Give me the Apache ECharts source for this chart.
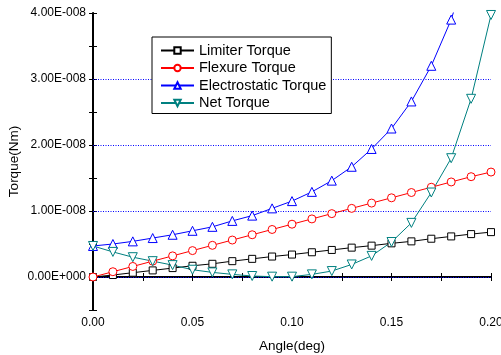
<!DOCTYPE html>
<html>
<head>
<meta charset="utf-8">
<script src="https://cdn.jsdelivr.net/npm/echarts@6/dist/echarts.min.js"></script>
<style>
  html, body { margin: 0; padding: 0; background: #fff; }
  #chart { width: 501px; height: 355px; }
</style>
</head>
<body>
<div id="chart"></div>
<script>
// angle in degrees, torque values in units of 1e-8 Nm
const angles = [0, 0.01, 0.02, 0.03, 0.04, 0.05, 0.06, 0.07, 0.08, 0.09, 0.10,
  0.11, 0.12, 0.13, 0.14, 0.15, 0.16, 0.17, 0.18, 0.19, 0.20]
const limiter = [0, 0.03, 0.065, 0.10, 0.135, 0.17, 0.20, 0.24, 0.275, 0.31, 0.34,
  0.375, 0.41, 0.445, 0.475, 0.51, 0.54, 0.58, 0.615, 0.65, 0.68]
const flexure = [0, 0.08, 0.16, 0.24, 0.32, 0.40, 0.48, 0.56, 0.64, 0.72, 0.80,
  0.88, 0.96, 1.04, 1.12, 1.20, 1.28, 1.36, 1.44, 1.52, 1.59]
const electrostatic = [0.47, 0.50, 0.54, 0.59, 0.64, 0.70, 0.76, 0.85, 0.93, 1.04, 1.15,
  1.29, 1.46, 1.67, 1.94, 2.25, 2.66, 3.20, 3.90, 4.87, 6.24]
const net = [0.47, 0.38, 0.30, 0.24, 0.18, 0.11, 0.07, 0.04, 0.015, 0.005, 0.005,
  0.04, 0.09, 0.19, 0.32, 0.53, 0.82, 1.28, 1.80, 2.70, 3.97]
const seriesNames = ['Limiter Torque', 'Flexure Torque', 'Electrostatic Torque', 'Net Torque']
const gridValues = [0, 1, 2, 3]

const SCALE = 1e-8
const pairs = (arr) => angles.map((a, i) => [a, arr[i] * SCALE])

const chart = echarts.init(document.getElementById('chart'))

const font = 'Liberation Sans, Arial, sans-serif'

const mkSeries = (name, arr, color, symbol, size, rotate) => ({
  name,
  type: 'line',
  data: pairs(arr),
  color,
  symbol,
  symbolSize: size,
  symbolRotate: rotate || 0,
  showAllSymbol: true,
  clip: true,
  lineStyle: { color, width: 1 },
  itemStyle: { color: '#fff', borderColor: color, borderWidth: 1 },
  animation: false,
  z: 3,
})

const series = [
  mkSeries(seriesNames[0], limiter, '#000000', 'rect', 7),
  mkSeries(seriesNames[1], flexure, '#ff0000', 'circle', 8),
  mkSeries(seriesNames[2], electrostatic, '#0000ff', 'triangle', 9),
  mkSeries(seriesNames[3], net, '#008080', 'triangle', 9, 180),
]
// dotted horizontal grid lines at the labelled values
series[0].markLine = {
  silent: true,
  symbol: 'none',
  precision: 12,
  z: 1,
  label: { show: false },
  emphasis: { disabled: true },
  lineStyle: { color: '#0000ff', type: [1, 1.5], width: 1, opacity: 1 },
  data: gridValues.map(v => ({ yAxis: v * SCALE })),
  animation: false,
}

const yFmt = (v) => {
  const m = v / SCALE
  if (Math.abs(m - Math.round(m)) > 1e-6) return ''
  if (Math.round(m) === 0) return '0.00E+000'
  return Math.round(m).toFixed(2) + 'E-008'
}

chart.setOption({
  animation: false,
  backgroundColor: '#fff',
  grid: { left: 93, right: 10, top: 13, bottom: 45, outerBoundsMode: 'none' },
  legend: {
    left: 152,
    top: 37,
    orient: 'vertical',
    backgroundColor: '#fff',
    borderColor: '#000',
    borderWidth: 1,
    borderRadius: 0,
    padding: [6, 5, 3, 8],
    itemWidth: 33,
    itemHeight: 8,
    itemGap: 2.5,
    textStyle: { fontFamily: font, fontSize: 14.5, color: '#000', lineHeight: 15 },
    data: seriesNames,
  },
  xAxis: [
    {
      type: 'value',
      min: 0,
      max: 0.2,
      interval: 0.025,
      name: 'Angle(deg)',
      nameLocation: 'middle',
      nameGap: 29,
      nameMoveOverlap: false,
      nameTextStyle: { fontFamily: font, fontSize: 13.5, color: '#000' },
      axisLine: { lineStyle: { color: '#000', width: 2 } },
      axisTick: { inside: true, length: 4, lineStyle: { color: '#000' } },
      axisLabel: {
        fontFamily: font,
        fontSize: 12,
        color: '#000',
        margin: 7,
        formatter: (v) => {
          const k = Math.round(v / 0.025)
          return k % 2 === 0 ? v.toFixed(2) : ''
        },
      },
      splitLine: { show: false },
    },
    {
      type: 'value',
      position: 'top',
      min: 0,
      max: 0.2,
      interval: 0.025,
      axisLine: { lineStyle: { color: '#000', width: 1 } },
      axisTick: { inside: true, length: 4, lineStyle: { color: '#000' } },
      axisLabel: { show: false },
      splitLine: { show: false },
    },
  ],
  yAxis: [
    {
      type: 'value',
      min: -0.5 * SCALE,
      max: 4 * SCALE,
      interval: 0.5 * SCALE,
      name: 'Torque(Nm)',
      nameLocation: 'middle',
      nameGap: 72,
      nameMoveOverlap: false,
      nameTextStyle: { fontFamily: font, fontSize: 13.5, color: '#000' },
      axisLine: { show: true, lineStyle: { color: '#000', width: 2 } },
      axisTick: { show: true, inside: true, length: 4, lineStyle: { color: '#000' } },
      axisLabel: { fontFamily: font, fontSize: 12, color: '#000', margin: 7, formatter: yFmt },
      splitLine: { show: false },
    },
    {
      type: 'value',
      position: 'right',
      min: -0.5 * SCALE,
      max: 4 * SCALE,
      interval: 0.5 * SCALE,
      axisLine: { show: true, lineStyle: { color: '#000', width: 1 } },
      axisTick: { show: true, inside: true, length: 4, lineStyle: { color: '#000' } },
      axisLabel: { show: false },
      splitLine: { show: false },
    },
  ],
  series,
})
</script>
</body>
</html>
